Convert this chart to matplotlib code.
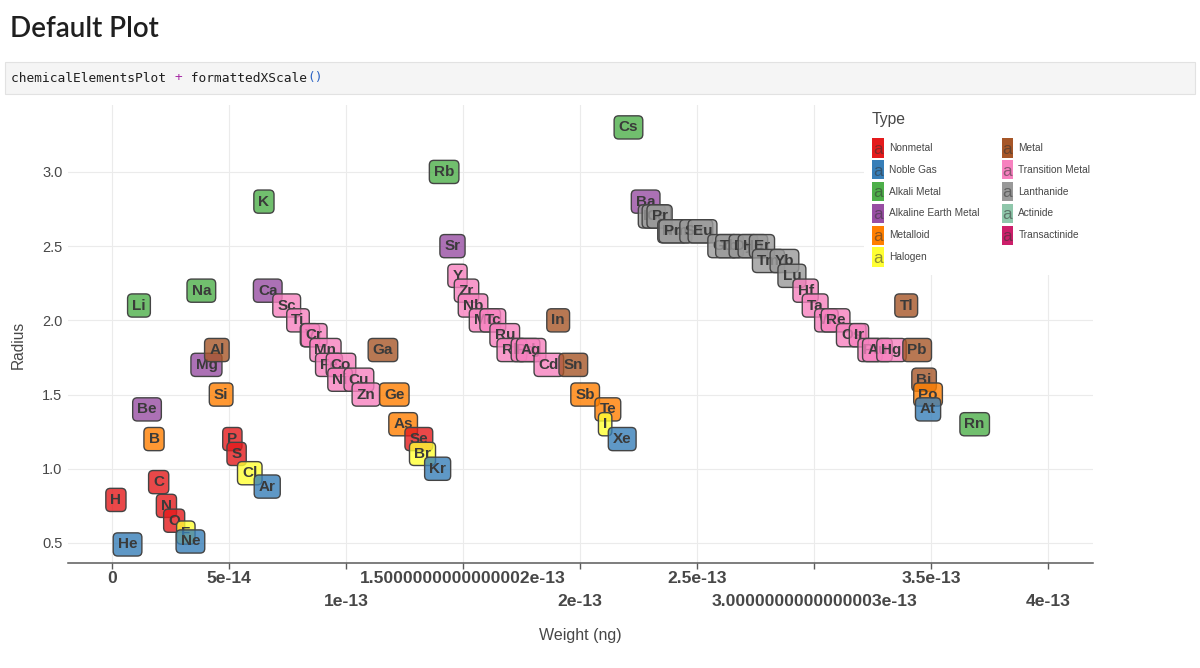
import matplotlib
matplotlib.use("Agg")
import matplotlib.pyplot as plt
from matplotlib.colors import to_rgba
from matplotlib.legend_handler import HandlerBase
from matplotlib.patches import Patch, Rectangle
from matplotlib.text import Text

# --- data -------------------------------------------------------------------
SYMBOLS = [
    "H", "He", "Li", "Be", "B", "C", "N", "O", "F", "Ne",
    "Na", "Mg", "Al", "Si", "P", "S", "Cl", "Ar",
    "K", "Ca", "Sc", "Ti", "V", "Cr", "Mn", "Fe", "Co", "Ni", "Cu", "Zn",
    "Ga", "Ge", "As", "Se", "Br", "Kr",
    "Rb", "Sr", "Y", "Zr", "Nb", "Mo", "Tc", "Ru", "Rh", "Pd", "Ag", "Cd",
    "In", "Sn", "Sb", "Te", "I", "Xe",
    "Cs", "Ba", "La", "Ce", "Pr", "Nd", "Pm", "Sm", "Eu", "Gd", "Tb", "Dy",
    "Ho", "Er", "Tm", "Yb", "Lu", "Hf", "Ta", "W", "Re", "Os", "Ir", "Pt",
    "Au", "Hg", "Tl", "Pb", "Bi", "Po", "At", "Rn",
]

# atomic mass in daltons; the chart plots it in nanograms
ATOMIC_MASS = [
    1.008, 4.003, 6.941, 9.012, 10.811, 12.011, 14.007, 15.999, 18.998, 20.180,
    22.990, 24.305, 26.982, 28.086, 30.974, 32.065, 35.453, 39.948,
    39.098, 40.078, 44.956, 47.867, 50.942, 51.996, 54.938, 55.845, 58.933,
    58.693, 63.546, 65.38,
    69.723, 72.64, 74.922, 78.96, 79.904, 83.798,
    85.468, 87.62, 88.906, 91.224, 92.906, 95.96, 98.0, 101.07, 102.906,
    106.42, 107.868, 112.411,
    114.818, 118.71, 121.76, 127.6, 126.904, 131.293,
    132.905, 137.327, 138.905, 140.116, 140.908, 144.242, 145.0, 150.36,
    151.964, 157.25, 158.925, 162.5, 164.93, 167.259, 168.934, 173.054,
    174.967, 178.49, 180.948, 183.84, 186.207, 190.23, 192.217, 195.084,
    196.967, 200.59, 204.383, 207.2, 208.98, 210.0, 210.0, 222.0,
]
DALTON_IN_NG = 1.66054e-15

RADIUS = [
    0.79, 0.49, 2.1, 1.4, 1.2, 0.91, 0.75, 0.65, 0.57, 0.51,
    2.2, 1.7, 1.8, 1.5, 1.2, 1.1, 0.97, 0.88,
    2.8, 2.2, 2.1, 2.0, 1.9, 1.9, 1.8, 1.7, 1.7, 1.6, 1.6, 1.5,
    1.8, 1.5, 1.3, 1.2, 1.1, 1.0,
    3.0, 2.5, 2.3, 2.2, 2.1, 2.0, 2.0, 1.9, 1.8, 1.8, 1.8, 1.7,
    2.0, 1.7, 1.5, 1.4, 1.3, 1.2,
    3.3, 2.8, 2.7, 2.7, 2.7, 2.6, 2.6, 2.6, 2.6, 2.5, 2.5, 2.5,
    2.5, 2.5, 2.4, 2.4, 2.3, 2.2, 2.1, 2.0, 2.0, 1.9, 1.9, 1.8,
    1.8, 1.8, 2.1, 1.8, 1.6, 1.5, 1.4, 1.3,
]

ELEMENT_TYPE = (
    ["Nonmetal", "Noble Gas", "Alkali Metal", "Alkaline Earth Metal", "Metalloid",
     "Nonmetal", "Nonmetal", "Nonmetal", "Halogen", "Noble Gas"]
    + ["Alkali Metal", "Alkaline Earth Metal", "Metal", "Metalloid",
       "Nonmetal", "Nonmetal", "Halogen", "Noble Gas"]
    + ["Alkali Metal", "Alkaline Earth Metal"] + ["Transition Metal"] * 10
    + ["Metal", "Metalloid", "Metalloid", "Nonmetal", "Halogen", "Noble Gas"]
    + ["Alkali Metal", "Alkaline Earth Metal"] + ["Transition Metal"] * 10
    + ["Metal", "Metal", "Metalloid", "Metalloid", "Halogen", "Noble Gas"]
    + ["Alkali Metal", "Alkaline Earth Metal"] + ["Lanthanide"] * 15
    + ["Transition Metal"] * 9
    + ["Metal", "Metal", "Metal", "Metalloid", "Noble Gas", "Alkali Metal"]
)

TYPES = ["Nonmetal", "Noble Gas", "Alkali Metal", "Alkaline Earth Metal",
         "Metalloid", "Halogen", "Metal", "Transition Metal", "Lanthanide",
         "Actinide", "Transactinide"]
TYPE_COLORS = ["#e41a1c", "#377eb8", "#4daf4a", "#984ea3", "#ff7f00",
               "#ffff33", "#a65628", "#f781bf", "#999999", "#8fc7ab", "#cc1f6a"]

X_TICKS = [0, 5e-14, 1e-13, 1.5e-13, 2e-13, 2.5e-13, 3e-13, 3.5e-13, 4e-13]
X_TICK_LABELS = ["0", "5e-14", "1e-13", "1.5000000000000002e-13", "2e-13",
                 "2.5e-13", "3.0000000000000003e-13", "3.5e-13", "4e-13"]
Y_TICKS = [0.5, 1.0, 1.5, 2.0, 2.5, 3.0]
Y_TICK_LABELS = ["0.5", "1.0", "1.5", "2.0", "2.5", "3.0"]

TEXT_GREY = "#474747"
SANS = ["Liberation Sans", "DejaVu Sans"]


class LetterKey(HandlerBase):
    """Legend key in the style of a text label: a coloured tile with an 'a'."""

    def create_artists(self, legend, orig_handle, xdescent, ydescent,
                       width, height, fontsize, trans):
        tile = Rectangle((-xdescent, -ydescent), width, height,
                         facecolor=orig_handle.get_facecolor(),
                         edgecolor="none", transform=trans)
        letter = Text(-xdescent + width / 2, -ydescent + height / 2 - 1, "a",
                      ha="center", va="center", fontsize=fontsize * 1.7,
                      family=SANS, color="#333333", alpha=0.55, transform=trans)
        return [tile, letter]


def main():
    fig = plt.figure(figsize=(12, 6.68), dpi=100)
    W, H = 1200, 668

    # notebook header + code cell
    fig.text(10 / W, 1 - 29 / H, "Default Plot", fontsize=20, fontweight="semibold",
             family=["Lato", "Open Sans", "DejaVu Sans"], color="#1f1f1f", va="center")
    fig.add_artist(Rectangle((5 / W, 1 - 94 / H), 1190 / W, 32 / H,
                             transform=fig.transFigure, facecolor="#f5f5f5",
                             edgecolor="#e2e2e2", linewidth=0.8))
    char_w = 7.8
    col = 0
    for piece, color in [("chemicalElementsPlot ", "#1f1f1f"), ("+", "#a626a4"),
                         (" formattedXScale", "#1f1f1f"), ("()", "#2b63c4")]:
        fig.text((11 + col * char_w) / W, 1 - 78 / H, piece, fontsize=9.3,
                 family="DejaVu Sans Mono", color=color, va="center")
        col += len(piece)

    # chart panel
    ax = fig.add_axes([68 / W, 1 - 563 / H, 1025 / W, 458 / H])
    color_of = dict(zip(TYPES, TYPE_COLORS))
    for sym, mass, radius, kind in zip(SYMBOLS, ATOMIC_MASS, RADIUS, ELEMENT_TYPE):
        ax.text(mass * DALTON_IN_NG, radius, sym, ha="center", va="center",
                fontsize=11, fontweight="bold", family=SANS, color="#3a3a3a",
                bbox=dict(boxstyle="round,pad=0.3,rounding_size=0.3",
                          facecolor=to_rgba(color_of[kind], 0.8),
                          edgecolor="#444444", linewidth=1.0))

    ax.set_xlim(-1.88e-14, 4.192e-13)
    ax.set_ylim(0.365, 3.451)

    # labels that would collide go on a second row (all but the first pair)
    staggered = ["\n" + lab if (i % 2 == 0 and i > 0) else lab
                 for i, lab in enumerate(X_TICK_LABELS)]
    ax.set_xticks(X_TICKS, staggered)
    ax.set_yticks(Y_TICKS, Y_TICK_LABELS)
    for lab in ax.get_xticklabels():
        lab.set_fontweight("bold")
        lab.set_family(SANS)
        lab.set_fontsize(12.6)
        lab.set_linespacing(1.7)
    for lab in ax.get_yticklabels():
        lab.set_family(SANS)
        lab.set_fontsize(10.5)
    ax.tick_params(axis="x", colors=TEXT_GREY, length=4.5, width=1.0, pad=1)
    ax.tick_params(axis="y", colors=TEXT_GREY, length=0, pad=4)
    ax.tick_params(axis="x", color="#5a5a5a")

    for side in ("top", "right", "left"):
        ax.spines[side].set_visible(False)
    ax.spines["bottom"].set_color("#5a5a5a")
    ax.spines["bottom"].set_linewidth(1.1)
    ax.grid(True, color="#ebebeb", linewidth=0.8)
    ax.set_axisbelow(True)

    ax.set_xlabel("Weight (ng)", fontsize=11.5, family=SANS, color=TEXT_GREY)
    ax.set_ylabel("Radius", fontsize=11.2, family=SANS, color=TEXT_GREY)
    ax.xaxis.set_label_coords(0.5, -0.142)
    ax.yaxis.set_label_coords(-0.041, 0.476)

    handles = [Patch(facecolor=c, label=t) for t, c in zip(TYPES, TYPE_COLORS)]
    leg = fig.legend(handles=handles, ncol=2, loc="upper left",
                     bbox_to_anchor=(864 / W, 1 - 104 / H), title="Type",
                     alignment="left", frameon=True, facecolor="white",
                     edgecolor="none", framealpha=1, fancybox=False,
                     prop={"family": SANS, "size": 7.3},
                     title_fontproperties={"family": SANS, "size": 11.3},
                     labelcolor=TEXT_GREY, handler_map={Patch: LetterKey()},
                     handlelength=1.15, handleheight=2.55, labelspacing=0.25,
                     handletextpad=0.5, columnspacing=2.2, borderpad=0.8,
                     borderaxespad=0)
    leg.get_title().set_color(TEXT_GREY)
    leg._legend_box.sep = 8

    fig.savefig("out.png", dpi=100)
    plt.close(fig)


if __name__ == "__main__":
    main()
